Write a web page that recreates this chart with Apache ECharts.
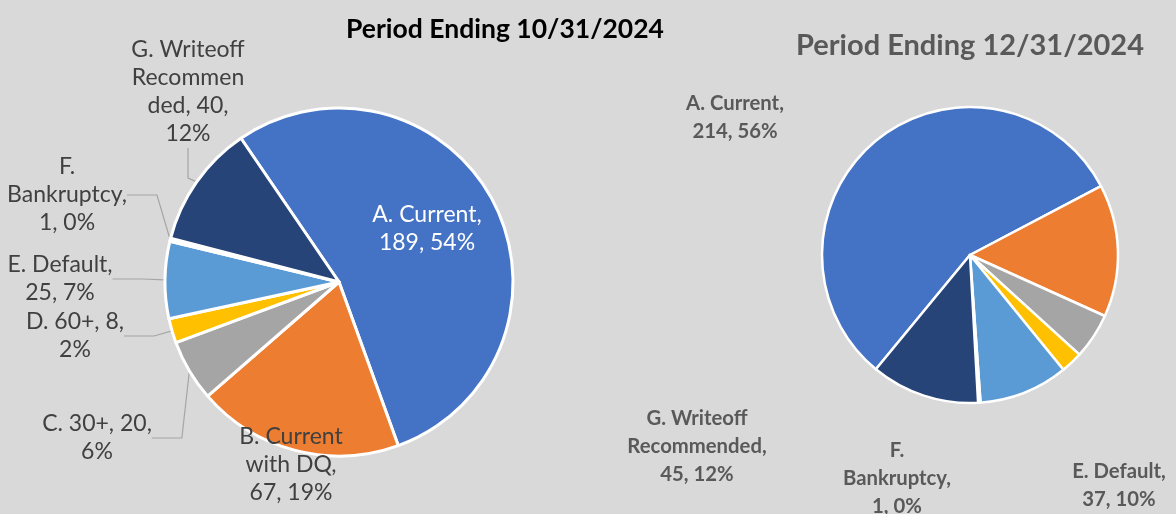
<!DOCTYPE html>
<html>
<head>
<meta charset="utf-8">
<script src="https://cdn.jsdelivr.net/npm/echarts@6/dist/echarts.min.js"></script>
<style>
  html, body { margin: 0; padding: 0; background: #d9d9d9; }
  #chart { width: 1176px; height: 514px; }
</style>
</head>
<body>
<div id="chart"></div>
<script>
// 数据
var categories = ['A. Current', 'B. Current with DQ', 'C. 30+', 'D. 60+', 'E. Default', 'F. Bankruptcy', 'G. Writeoff Recommended'];
var oct2024 = [189, 67, 20, 8, 25, 1, 40];
var dec2024 = [214, 55, 19, 9, 37, 1, 45];
var titles = ['Period Ending 10/31/2024', 'Period Ending 12/31/2024'];

// 颜色 (Office 默认)
var colors = ['#4472c4', '#ed7d31', '#a5a5a5', '#ffc000', '#5b9bd5', '#70ad47', '#264478'];

// 标签换行模板
var octWrap = [
  'A. Current,\n{c}, {d}%',
  'B. Current\nwith DQ,\n{c}, {d}%',
  'C. 30+, {c},\n{d}%',
  'D. 60+, {c},\n{d}%',
  'E. Default,\n{c}, {d}%',
  'F.\nBankruptcy,\n{c}, {d}%',
  'G. Writeoff\nRecommen\nded, {c},\n{d}%'
];
var decWrap = [
  'A. Current,\n{c}, {d}%',
  null, null, null,
  'E. Default,\n{c}, {d}%',
  'F.\nBankruptcy,\n{c}, {d}%',
  'G. Writeoff\nRecommended,\n{c}, {d}%'
];
// 标签中心位置 (像素)
var octLabelPos = [[427, 229], [291, 465], [97, 438], [75, 336], [60, 279], [67, 195], [188, 92]];
var decLabelPos = [[735, 117], null, null, null, [1119, 485], [897, 478], [697, 446]];
var octLine = [false, false, true, true, true, true, true];
var decLine = [false, false, false, false, false, false, false];

function buildData(values, wrap, withLine, firstColor) {
  return values.map(function (v, i) {
    var item = { name: categories[i], value: v };
    if (!wrap[i]) {
      item.label = { show: false };
      item.labelLine = { show: false };
    } else {
      item.label = { formatter: wrap[i] };
      if (!withLine[i]) item.labelLine = { show: false };
    }
    if (i === 0 && firstColor) item.label.color = firstColor;
    return item;
  });
}

function layoutFrom(pos) {
  return function (params) {
    var p = pos[params.dataIndex];
    if (!p) return {};
    return { x: p[0], y: p[1], align: 'center', verticalAlign: 'middle' };
  };
}

var chart = echarts.init(document.getElementById('chart'));
var option = {
  backgroundColor: '#d9d9d9',
  animation: false,
  color: colors,
  title: [{
    text: titles[0],
    left: 500,
    top: 11,
    textAlign: 'center',
    textStyle: { fontFamily: 'Lato', fontWeight: 'bold', fontSize: 26.5, color: '#000000' }
  }, {
    text: titles[1],
    left: 965,
    top: 26,
    textAlign: 'center',
    textStyle: { fontFamily: 'Lato', fontWeight: 'bold', fontSize: 29, color: '#595959' }
  }],
  series: [{
    type: 'pie',
    center: [339, 282],
    radius: 174,
    startAngle: 124.3,
    clockwise: true,
    percentPrecision: 0,
    avoidLabelOverlap: false,
    itemStyle: { borderColor: '#ffffff', borderWidth: 3 },
    label: {
      show: true,
      position: 'outside',
      fontFamily: 'Lato',
      fontSize: 23,
      lineHeight: 28,
      color: '#404040',
      align: 'center'
    },
    labelLine: { show: true, lineStyle: { color: '#a6a6a6', width: 1.2 } },
    labelLayout: layoutFrom(octLabelPos),
    emphasis: { disabled: true },
    data: buildData(oct2024, octWrap, octLine, '#ffffff')
  }, {
    type: 'pie',
    center: [970, 255],
    radius: 148,
    startAngle: 230.5,
    clockwise: true,
    percentPrecision: 0,
    avoidLabelOverlap: false,
    itemStyle: { borderColor: '#ffffff', borderWidth: 2.5 },
    label: {
      show: true,
      position: 'outside',
      fontFamily: 'Lato',
      fontWeight: 'bold',
      fontSize: 20.3,
      lineHeight: 28,
      color: '#595959',
      align: 'center'
    },
    labelLine: { show: false },
    labelLayout: layoutFrom(decLabelPos),
    emphasis: { disabled: true },
    data: buildData(dec2024, decWrap, decLine, null)
  }]
};
chart.setOption(option);
</script>
</body>
</html>
